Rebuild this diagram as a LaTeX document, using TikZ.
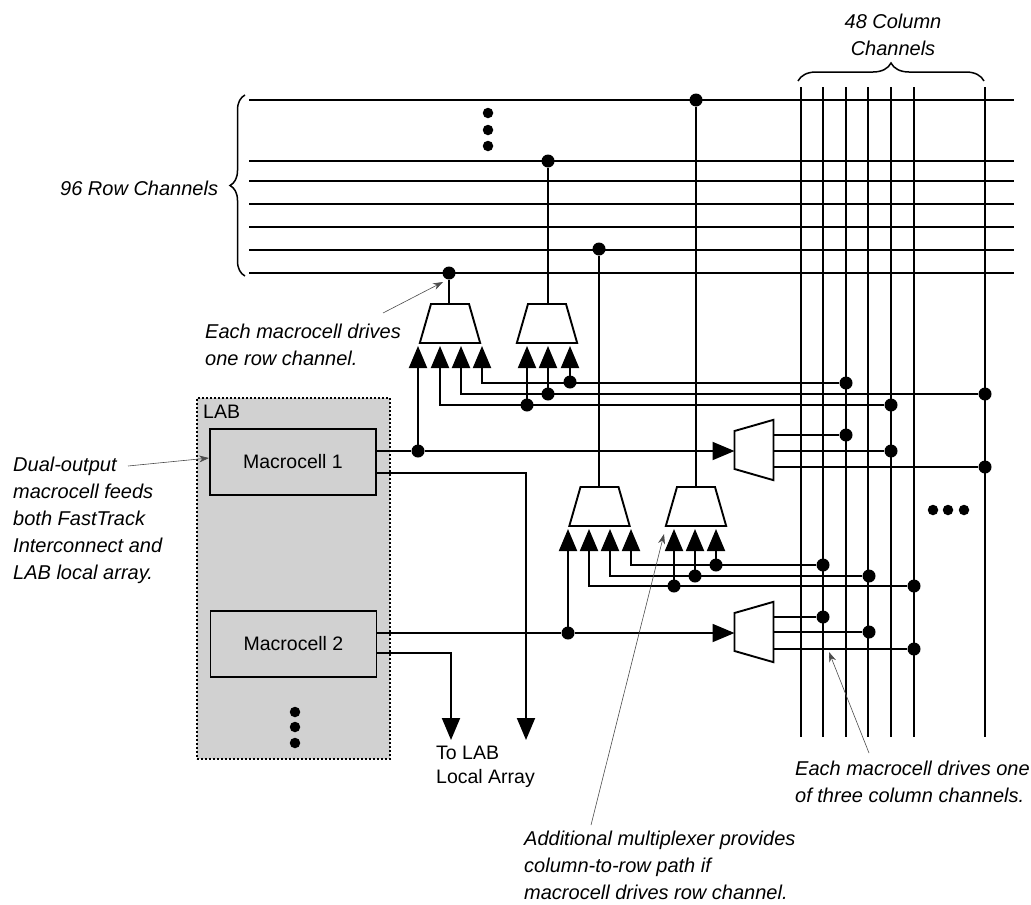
\documentclass[tikz,border=0pt]{standalone}
\usepackage{fontspec}
\setmainfont{Liberation Sans}
\usepackage{tikz}
\usetikzlibrary{arrows.meta,decorations.pathreplacing,shapes.geometric}
\newcommand{\muxbody}{\hspace*{38pt}\rule{0pt}{39pt}}

\begin{document}
\begin{tikzpicture}[x=1pt,y=-1pt,
wire/.style={line width=1.9pt},
feed/.style={wire,-{Triangle[length=22pt,width=18pt]}},
leader/.style={line width=.6pt,black!70,-{Stealth[length=10pt,width=7pt]}},
bracket/.style={line width=1.5pt,decorate},
dot/.style={circle,fill=black,inner sep=0pt,minimum size=13pt},
smalldot/.style={circle,fill=black,inner sep=0pt,minimum size=10.5pt},
mux/.style={draw,wire,fill=white,trapezium,inner sep=0pt,outer sep=0pt,
    trapezium left angle=74,trapezium right angle=74},
sidemux/.style={mux,rotate=90},
cell/.style={draw,line width=1.6pt,fill=black!18,minimum width=166pt,minimum height=66pt,
    inner sep=0pt,font=\fontsize{19.5}{24}\selectfont},
note/.style={anchor=base west,inner sep=0pt,align=left,
    font=\itshape\fontsize{20}{27}\selectfont},
plain/.style={anchor=base west,inner sep=0pt,align=left,
    font=\fontsize{19.5}{24}\selectfont}]
\useasboundingbox (0,0) rectangle (1031,905);

% LAB block
\node (lab) [draw,line width=1.6pt,dash pattern=on 2pt off 2pt,fill=black!18,anchor=north west,
    minimum width=193pt,minimum height=361pt,inner sep=0pt] at (196,397) {};
\node (mc1) [cell] at (293,462) {Macrocell 1};
\node (mc2) [cell] at (293.5,644) {Macrocell 2};
\node (labname) [plain] at (203,418) {LAB};

% rows and columns
\foreach \name/\y in {a/100,b/161,c/181,d/204,e/227,f/250,g/273} {
    \coordinate (row\name w) at (249,\y);
    \coordinate (row\name e) at (1014,\y);
    \draw [wire] (row\name w) -- (row\name e);
}
\foreach \name/\x in {a/801,b/823,c/846,d/868,e/891,f/914,g/985} {
    \coordinate (col\name t) at (\x,87);
    \coordinate (col\name b) at (\x,737);
    \draw [wire] (col\name t) -- (col\name b);
}
\coordinate (bracea) at (984,81);
\coordinate (braceb) at (798,81);
\coordinate (bracec) at (245,95);
\coordinate (braced) at (245,276);
\draw [bracket,decoration={brace,amplitude=18pt,aspect=.5}] (braceb) -- (bracea);
\draw [bracket,decoration={brace,amplitude=15pt,aspect=.5}] (braced) -- (bracec);

% multiplexers
\node (mux1) [mux] at (450,323.5) {\muxbody};
\node (mux2) [mux] at (547,323.5) {\muxbody};
\node (mux3) [mux] at (599.5,506.5) {\muxbody};
\node (mux4) [mux] at (696,506.5) {\muxbody};
\node (mux5) [sidemux] at (754,450) {\muxbody};
\node (mux6) [sidemux] at (754,632) {\muxbody};

% junctions
\foreach \name/\x/\y in {top1/449/273,top2/548/161,top3/599/249,top4/696/100,
    in1/418/451,in2/568/633,
    ra/846/383,rb/985/394,rc/891/405,
    rd/846/435,re/891/451,rf/985/467,
    sa/823/565,sb/869/576,sc/914/586,
    sd/823/617,se/869/632,sf/914/649,
    ta/570/382,tb/548/394,tc/527/405,
    ua/716/565,ub/695/576,uc/674/586} {
    \node (\name) [dot] at (\x,\y) {};
}

% mux outputs
\foreach \from/\to in {mux1/top1,mux2/top2,mux3/top3,mux4/top4} {
    \draw [wire] (\to |- \from.top side) -- (\to);
}
\foreach \from/\to in {mux5/rd,mux5/re,mux5/rf,mux6/sd,mux6/se,mux6/sf} {
    \draw [wire] (\from.bottom side |- \to) -- (\to);
}

% mux inputs
\foreach \name/\x in {a/418,b/440,c/461,d/482,e/527,f/548,g/570} {
    \coordinate (up\name) at (\x,346);
}
\foreach \name/\x in {a/568,b/589,c/610,d/631,e/674,f/695,g/716} {
    \coordinate (lo\name) at (\x,529);
}
\foreach \from/\to in {in1/upa,rc/upb,rb/upc,ra/upd,tc/upe,tb/upf,ta/upg,
    in2/loa,sc/lob,sb/loc,sa/lod,uc/loe,ub/lof,ua/log} {
    \draw [feed] (\from) -| (\to);
}

% macrocell outputs
\coordinate (mc1a) at (mc1.east |- in1);
\coordinate (mc1b) at (376,473);
\coordinate (mc2a) at (mc2.east |- in2);
\coordinate (mc2b) at (377,653);
\coordinate (locala) at (526,740);
\coordinate (localb) at (451,740);
\draw [wire] (mc1a) -- (in1);
\draw [wire] (mc2a) -- (in2);
\draw [feed] (in1) -- (mux5.top side |- in1);
\draw [feed] (in2) -- (mux6.top side |- in2);
\draw [feed] (mc1b) -| (locala);
\draw [feed] (mc2b) -| (localb);

% dots
\foreach \name/\x/\y in {lab1/295/712,lab2/295/727,lab3/295/743,
    rowdots1/488/113,rowdots2/488/130,rowdots3/488/146,
    coldots1/933/510,coldots2/948/510,coldots3/964/510} {
    \node (\name) [smalldot] at (\x,\y) {};
}

% text
\node (colname) [note,anchor=base,align=center] at (893,55) {48 Column\\Channels};
\node (rowname) [note] at (60,195) {96 Row Channels};
\node (noterow) [note] at (205,365) {Each macrocell drives\\one row channel.};
\node (notedual) [note] at (13,579) {Dual-output\\macrocell feeds\\both FastTrack\\Interconnect and\\LAB local array.};
\node (localname) [plain] at (436,783) {To LAB\\Local Array};
\node (notecol) [note] at (795,802) {Each macrocell drives one\\of three column channels.};
\node (noteadd) [note] at (524,899) {Additional multiplexer provides\\column-to-row path if\\macrocell drives row channel.};

% leaders
\coordinate (leada) at (383,313);
\coordinate (leadb) at (443,282);
\coordinate (leadc) at (128,466);
\coordinate (leadh) at (209,458);
\coordinate (leadd) at (591,825);
\coordinate (leade) at (664,534);
\coordinate (leadf) at (869,753);
\coordinate (leadg) at (829,652);
\draw [leader] (leada) -- (leadb);
\draw [leader] (leadc) -- (leadh);
\draw [leader] (leadd) -- (leade);
\draw [leader] (leadf) -- (leadg);
\end{tikzpicture}
\end{document}
